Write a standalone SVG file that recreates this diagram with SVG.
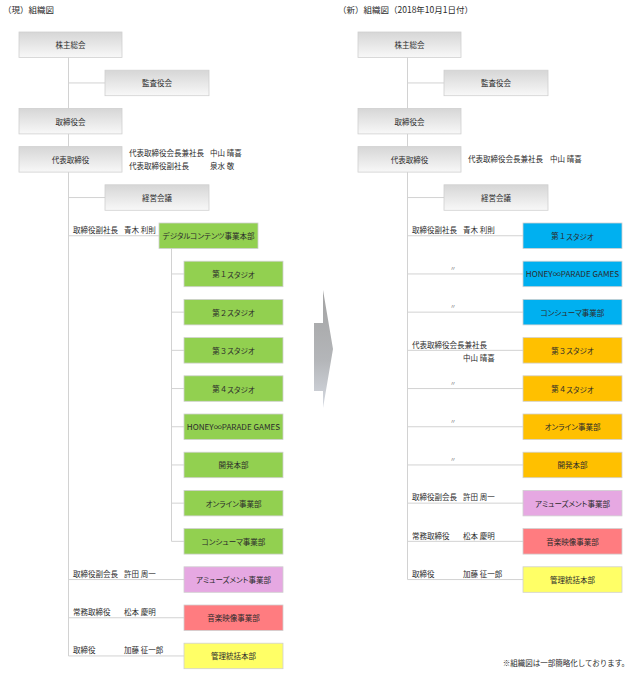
<svg xmlns="http://www.w3.org/2000/svg" width="640" height="682" viewBox="0 0 640 682">
<defs>
<linearGradient id="gray" x1="0" y1="0" x2="0" y2="1">
<stop offset="0" stop-color="#d6d6d6"/>
<stop offset="1" stop-color="#f8f8f8"/>
</linearGradient>
<linearGradient id="arrowg" x1="0" y1="0" x2="0" y2="1">
<stop offset="0" stop-color="#a3a3a3"/>
<stop offset="0.6" stop-color="#b4b6b9"/>
<stop offset="1" stop-color="#d6dae2"/>
</linearGradient>
<style>
text{font-family:"Noto Sans CJK JP","Noto Sans",sans-serif;font-size:7.5px;fill:#2b2b2b;}
.c{text-anchor:middle;dominant-baseline:central;font-feature-settings:"palt";}
.n{text-anchor:middle;dominant-baseline:central;}
.p{font-feature-settings:"palt";}
.m{dominant-baseline:central;}
.t{font-size:8.5px;}
.d{font-size:6px;fill:#777;}
.h{font-size:8.1px;}
.bx{stroke:#d0d0d0;stroke-width:0.8;}
.g{fill:url(#gray);}
.gr{fill:#92d050;}
.bl{fill:#00b0f0;}
.or{fill:#ffc000;}
.pk{fill:#e6a8e2;}
.rd{fill:#ff7c80;}
.ye{fill:#ffff66;}
.ln{stroke:#d2d2d2;stroke-width:1;fill:none;}
</style>
</defs>
<rect width="640" height="682" fill="#ffffff"/>
<text class="t" x="3" y="13">（現）組織図</text>
<text class="t" x="338" y="13">（新）組織図（2018年10月1日付）</text>
<g id="connectors">
<path class="ln" d="M68.5 57V656M68.5 82.95H105M68.5 197.55H105M68.5 235.75H159M171.5 248.5V541.35M171.5 273.95H184M171.5 312.15H184M171.5 350.35H184M171.5 388.55H184M171.5 426.75H184M171.5 464.95H184M171.5 503.15H184M171.5 541.35H184M68.5 579.55H184M68.5 617.75H184M68.5 655.95H184"/>
<path class="ln" d="M407.5 57V579.55M407.5 82.95H444M407.5 197.55H444M407.5 235.75H523M407.5 273.95H523M407.5 312.15H523M407.5 350.35H523M407.5 388.55H523M407.5 426.75H523M407.5 464.95H523M407.5 503.15H523M407.5 541.35H523M407.5 579.55H523"/>
</g>
<g id="arrow"><polygon points="314,323 323,323 323,290 333,349 323,408 323,391 314,391" fill="url(#arrowg)"/></g>
<g id="left">
<g id="L-kabunushi"><rect class="bx g" x="19" y="32" width="103" height="25.5"/><text class="c" x="70.5" y="44.75">株主総会</text></g>
<g id="L-kansa"><rect class="bx g" x="105" y="70.2" width="104" height="25.5"/><text class="c" x="157" y="82.95">監査役会</text></g>
<g id="L-torishimari"><rect class="bx g" x="19" y="108.4" width="103" height="25.5"/><text class="c" x="70.5" y="121.15">取締役会</text></g>
<g id="L-daihyo"><rect class="bx g" x="19" y="146.6" width="103" height="25.5"/><text class="c" x="70.5" y="159.35">代表取締役</text>
<text class="m" x="129" y="152.5">代表取締役会長兼社長</text><text class="m" x="210" y="152.5">中山 晴喜</text>
<text class="m" x="129" y="165.5">代表取締役副社長</text><text class="m" x="210" y="165.5">泉水 敬</text></g>
<g id="L-keiei"><rect class="bx g" x="105" y="184.8" width="104" height="25.5"/><text class="c" x="157" y="197.55">経営会議</text></g>
<g id="L-digital"><rect class="bx gr" x="159" y="223" width="99" height="25.5"/><text class="c" x="208.5" y="235.75">デジタルコンテンツ事業本部</text>
<text class="m" x="73" y="229.25">取締役副社長</text><text class="m" x="124" y="229.25">青木 利則</text></g>
<g id="L-s1"><rect class="bx gr" x="184" y="261.2" width="99" height="25.5"/><text class="n" x="233.5" y="273.95">第１<tspan class="p">スタジオ</tspan></text></g>
<g id="L-s2"><rect class="bx gr" x="184" y="299.4" width="99" height="25.5"/><text class="n" x="233.5" y="312.15">第２<tspan class="p">スタジオ</tspan></text></g>
<g id="L-s3"><rect class="bx gr" x="184" y="337.6" width="99" height="25.5"/><text class="n" x="233.5" y="350.35">第３<tspan class="p">スタジオ</tspan></text></g>
<g id="L-s4"><rect class="bx gr" x="184" y="375.8" width="99" height="25.5"/><text class="n" x="233.5" y="388.55">第４<tspan class="p">スタジオ</tspan></text></g>
<g id="L-honey"><rect class="bx gr" x="184" y="414" width="99" height="25.5"/><text class="c h" x="233.5" y="426.75">HONEY∞PARADE GAMES</text></g>
<g id="L-kaihatsu"><rect class="bx gr" x="184" y="452.2" width="99" height="25.5"/><text class="c" x="233.5" y="464.95">開発本部</text></g>
<g id="L-online"><rect class="bx gr" x="184" y="490.4" width="99" height="25.5"/><text class="c" x="233.5" y="503.15">オンライン事業部</text></g>
<g id="L-consumer"><rect class="bx gr" x="184" y="528.6" width="99" height="25.5"/><text class="c" x="233.5" y="541.35">コンシューマ事業部</text></g>
<g id="L-amuse"><rect class="bx pk" x="184" y="566.8" width="99" height="25.5"/><text class="c" x="233.5" y="579.55">アミューズメント事業部</text>
<text class="m" x="73" y="573">取締役副会長</text><text class="m" x="124" y="573">許田 周一</text></g>
<g id="L-ongaku"><rect class="bx rd" x="184" y="605" width="99" height="25.5"/><text class="c" x="233.5" y="617.75">音楽映像事業部</text>
<text class="m" x="73" y="611.5">常務取締役</text><text class="m" x="124" y="611.5">松本 慶明</text></g>
<g id="L-kanri"><rect class="bx ye" x="184" y="643.2" width="99" height="25.5"/><text class="c" x="233.5" y="655.95">管理統括本部</text>
<text class="m" x="73" y="649.5">取締役</text><text class="m" x="124" y="649.5">加藤 征一郎</text></g>
</g>
<g id="right">
<g id="R-kabunushi"><rect class="bx g" x="358" y="32" width="103" height="25.5"/><text class="c" x="409.5" y="44.75">株主総会</text></g>
<g id="R-kansa"><rect class="bx g" x="444" y="70.2" width="104" height="25.5"/><text class="c" x="496" y="82.95">監査役会</text></g>
<g id="R-torishimari"><rect class="bx g" x="358" y="108.4" width="103" height="25.5"/><text class="c" x="409.5" y="121.15">取締役会</text></g>
<g id="R-daihyo"><rect class="bx g" x="358" y="146.6" width="103" height="25.5"/><text class="c" x="409.5" y="159.35">代表取締役</text>
<text class="m" x="468" y="158.5">代表取締役会長兼社長</text><text class="m" x="550" y="158.5">中山 晴喜</text></g>
<g id="R-keiei"><rect class="bx g" x="444" y="184.8" width="104" height="25.5"/><text class="c" x="496" y="197.55">経営会議</text></g>
<g id="R-s1"><rect class="bx bl" x="523" y="223" width="99" height="25.5"/><text class="n" x="572.5" y="235.75">第１<tspan class="p">スタジオ</tspan></text>
<text class="m" x="412" y="229.25">取締役副社長</text><text class="m" x="463" y="229.25">青木 利則</text></g>
<g id="R-honey"><rect class="bx bl" x="523" y="261.2" width="99" height="25.5"/><text class="c h" x="572.5" y="273.95">HONEY∞PARADE GAMES</text>
<text class="d m" x="450" y="267.5">〃</text></g>
<g id="R-consumer"><rect class="bx bl" x="523" y="299.4" width="99" height="25.5"/><text class="c" x="572.5" y="312.15">コンシューマ事業部</text>
<text class="d m" x="450" y="305.7">〃</text></g>
<g id="R-s3"><rect class="bx or" x="523" y="337.6" width="99" height="25.5"/><text class="n" x="572.5" y="350.35">第３<tspan class="p">スタジオ</tspan></text>
<text class="m" x="412" y="344">代表取締役会長兼社長</text><text class="m" x="463" y="357">中山 晴喜</text></g>
<g id="R-s4"><rect class="bx or" x="523" y="375.8" width="99" height="25.5"/><text class="n" x="572.5" y="388.55">第４<tspan class="p">スタジオ</tspan></text>
<text class="d m" x="450" y="382.1">〃</text></g>
<g id="R-online"><rect class="bx or" x="523" y="414" width="99" height="25.5"/><text class="c" x="572.5" y="426.75">オンライン事業部</text>
<text class="d m" x="450" y="420.3">〃</text></g>
<g id="R-kaihatsu"><rect class="bx or" x="523" y="452.2" width="99" height="25.5"/><text class="c" x="572.5" y="464.95">開発本部</text>
<text class="d m" x="450" y="458.5">〃</text></g>
<g id="R-amuse"><rect class="bx pk" x="523" y="490.4" width="99" height="25.5"/><text class="c" x="572.5" y="503.15">アミューズメント事業部</text>
<text class="m" x="412" y="496.6">取締役副会長</text><text class="m" x="463" y="496.6">許田 周一</text></g>
<g id="R-ongaku"><rect class="bx rd" x="523" y="528.6" width="99" height="25.5"/><text class="c" x="572.5" y="541.35">音楽映像事業部</text>
<text class="m" x="412" y="535">常務取締役</text><text class="m" x="463" y="535">松本 慶明</text></g>
<g id="R-kanri"><rect class="bx ye" x="523" y="566.8" width="99" height="25.5"/><text class="c" x="572.5" y="579.55">管理統括本部</text>
<text class="m" x="412" y="573">取締役</text><text class="m" x="463" y="573">加藤 征一郎</text></g>
</g>
<text x="629" y="665.5" text-anchor="end">※組織図は一部簡略化しております。</text>
</svg>
